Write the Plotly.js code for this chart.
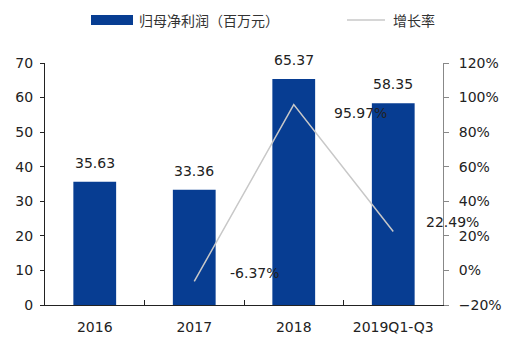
<!DOCTYPE html>
<html><head><meta charset="utf-8">
<script src="https://cdn.plot.ly/plotly-3.0.1.min.js"></script>
<style>body{margin:0;background:#fff}#c{width:522px;height:350px}</style>
</head><body><div id="c"></div>
<script>
var categories = ['2016', '2017', '2018', '2019Q1-Q3'];
var profit = [35.63, 33.36, 65.37, 58.35];
var growth = [null, -6.37, 95.97, 22.49];
var seriesNames = ['归母净利润（百万元）', '增长率'];

var growthShiftX = [0, 61, 67, 59];
var growthShiftY = [0, 8, -8, 10];

var idx = categories.map(function(c,i){return i;});
var bounds = idx.slice(1).map(function(i){return i-0.5;});
var font = 'Tahoma, "DejaVu Sans", sans-serif';
var cjk = '"Noto Sans CJK SC", sans-serif';
var PL = 45, PR = 443, PT = 63, PB = 305;
function px(x){ return (x - PL) / (PR - PL); }
function py(y){ return (PB - y) / (PB - PT); }

var traces = [
  {type:'bar', x:idx, y:profit, name:seriesNames[0], marker:{color:'#073d92'}, width:0.43, showlegend:false},
  {type:'scatter', mode:'lines', x:idx, y:growth, yaxis:'y2', name:seriesNames[1],
   line:{color:'#c8c8c8', width:1.5}, connectgaps:false, showlegend:false}
];

var annotations = [];
profit.forEach(function(v,i){
  annotations.push({x:idx[i], y:v, xref:'x', yref:'y', text:v.toFixed(2), showarrow:false,
    yanchor:'bottom', yshift:9, font:{family:font, size:14, color:'#222'}});
});
growth.forEach(function(v,i){
  if(v===null) return;
  annotations.push({x:idx[i], y:v, yref:'y2', xref:'x', text:v.toFixed(2)+'%', showarrow:false,
    xshift:growthShiftX[i], yshift:growthShiftY[i], font:{family:font, size:14, color:'#222'}});
});
annotations.push({xref:'paper', yref:'paper', x:px(137), y:py(20), xanchor:'left', yanchor:'middle',
  text:seriesNames[0], showarrow:false, font:{family:cjk, size:14, color:'#333'}});
annotations.push({xref:'paper', yref:'paper', x:px(391), y:py(20), xanchor:'left', yanchor:'middle',
  text:seriesNames[1], showarrow:false, font:{family:cjk, size:14, color:'#333'}});

var shapes = [
  {type:'rect', xref:'paper', yref:'paper', x0:px(91), x1:px(133), y0:py(25), y1:py(15), fillcolor:'#073d92', line:{width:0}},
  {type:'line', xref:'paper', yref:'paper', x0:px(347), x1:px(385), y0:py(20), y1:py(20), line:{color:'#c8c8c8', width:1.5}}
];

var layout = {
  width:522, height:350, margin:{l:PL, r:522-PR, t:PT, b:350-PB},
  paper_bgcolor:'#fff', plot_bgcolor:'#fff', showlegend:false,
  xaxis:{type:'linear', range:[-0.5, categories.length-0.5], tickmode:'array', tickvals:idx, ticktext:categories,
    showline:true, linecolor:'#222', linewidth:1, ticks:'', showgrid:false, zeroline:false,
    tickfont:{family:font, size:14, color:'#222'}, tickangle:0, ticklabelstandoff:9,
    minor:{tickmode:'array', tickvals:bounds, ticks:'inside', ticklen:5, tickcolor:'#222', showgrid:false}},
  yaxis:{range:[0,70], dtick:10, showline:true, linecolor:'#222', ticks:'outside', ticklen:4, tickcolor:'#222',
    showgrid:false, zeroline:false, ticklabelstandoff:4, tickfont:{family:font, size:14, color:'#222'}},
  yaxis2:{overlaying:'y', side:'right', range:[-20,120], dtick:20, ticksuffix:'%', showline:true,
    linecolor:'#888', ticks:'outside', ticklen:5, tickcolor:'#888', showgrid:false, zeroline:false,
    ticklabelstandoff:7, tickfont:{family:font, size:14, color:'#222'}},
  annotations:annotations, shapes:shapes
};
Plotly.newPlot('c', traces, layout, {staticPlot:true});
</script></body></html>
